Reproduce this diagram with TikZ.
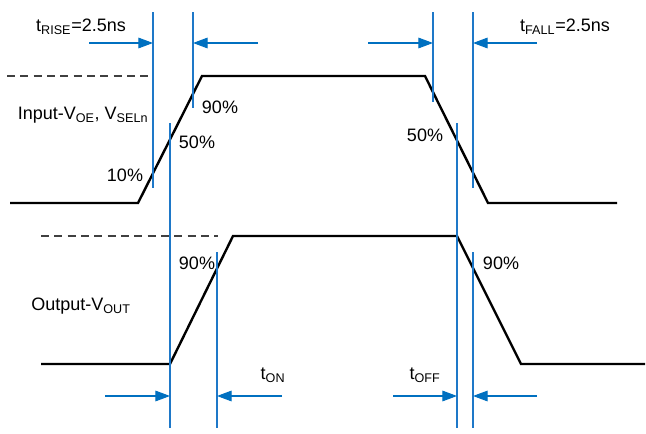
\documentclass[tikz,border=0pt]{standalone}
\usepackage{fontspec}
\setmainfont{Liberation Sans}
\usetikzlibrary{arrows.meta}
\definecolor{markblue}{RGB}{30,120,200}
\definecolor{arrowblue}{RGB}{0,112,192}
\begin{document}
\begin{tikzpicture}[x=0.75pt,y=-0.75pt,
  wave/.style={black,line width=1.8pt},
  levelmark/.style={black!75,line width=0.9pt,dash pattern=on 6pt off 4pt},
  edgemark/.style={markblue,line width=0.8pt},
  gap/.style={arrowblue,line width=0.8pt,-{Triangle[length=11pt,width=8pt]}},
  txt/.style={font=\fontsize{13.5}{16}\selectfont,inner sep=0pt}]
  \useasboundingbox (0,0) rectangle (646,433);
  % waveforms
  \coordinate (in0) at (10,203);
  \coordinate (in1) at (138,203);
  \coordinate (in2) at (202,76);
  \coordinate (in3) at (425,76);
  \coordinate (in4) at (488,203);
  \coordinate (in5) at (617,203);
  \coordinate (out0) at (41,364);
  \coordinate (out1) at (170,364);
  \coordinate (out2) at (233,236);
  \coordinate (out3) at (457,236);
  \coordinate (out4) at (521,364);
  \coordinate (out5) at (645,364);
  \draw[wave] (in0) -- (in1) -- (in2) -- (in3) -- (in4) -- (in5);
  \draw[wave] (out0) -- (out1) -- (out2) -- (out3) -- (out4) -- (out5);
  \coordinate (inhigh) at (7,76);
  \coordinate (outhigh) at (41,236);
  \draw[levelmark] (inhigh) -- (153,76);
  \draw[levelmark] (outhigh) -- (218,236);
  % edge markers
  \foreach \n/\x/\ya/\yb in {rise10/153/12/188, rise90/193/12/108, rise50/170/123/428,
                            fall90/433/12/102, fall10/473/12/188, fall50/457/123/428,
                            on90/217/252/428, off90/473/252/428}{
    \coordinate (\n t) at (\x,\ya);
    \coordinate (\n b) at (\x,\yb);
    \draw[edgemark] (\n t) -- (\n b);
  }
  % timing arrows
  \foreach \n/\x/\y in {rise10/89/43, rise90/258/43, fall90/368/43, fall10/537/43,
                        rise50/105/396, on90/282/396, fall50/393/396, off90/537/396}{
    \coordinate (\n a) at (\x,\y);
    \draw[gap] (\n a) -- (\n a -| \n t);
  }
  % labels
  \node[txt] (trise) at (81,27) {t\textsubscript{RISE}=2.5ns};
  \node[txt] (tfall) at (565,27) {t\textsubscript{FALL}=2.5ns};
  \node[txt] (inname) at (83,115) {Input-V\textsubscript{OE}, V\textsubscript{SELn}};
  \node[txt] (outname) at (81,306) {Output-V\textsubscript{OUT}};
  \node[txt] (in90) at (220,107) {90\%};
  \node[txt] (in50a) at (197,142) {50\%};
  \node[txt] (in10) at (125,175) {10\%};
  \node[txt] (in50b) at (425,135) {50\%};
  \node[txt] (out90a) at (197,263) {90\%};
  \node[txt] (out90b) at (501,263) {90\%};
  \node[txt] (ton) at (273,375) {t\textsubscript{ON}};
  \node[txt] (toff) at (425,375) {t\textsubscript{OFF}};
\end{tikzpicture}
\end{document}
